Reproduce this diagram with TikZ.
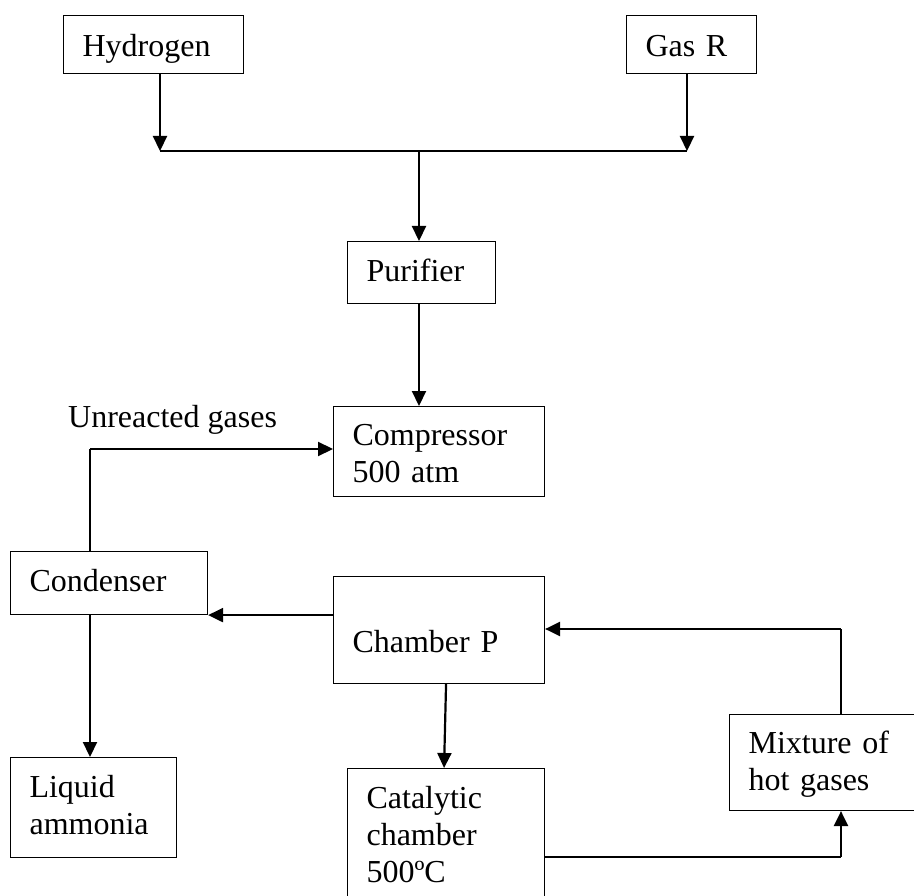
\documentclass[tikz,border=0pt]{standalone}
\usepackage{fontspec}
\setmainfont{Liberation Serif}
\usetikzlibrary{arrows.meta}

\begin{document}
\begin{tikzpicture}[x=1pt, y=-1pt,
	box/.style n args={3}{draw, line width=1.1pt, anchor=north west, inner xsep=19pt, inner ysep=0pt, align=left, text width=#1, text height=#2, text depth=#3, font=\fontsize{32}{37}\selectfont},
	pipe/.style={line width=1.2pt},
	flow/.style={line width=2.2pt, -{Triangle[length=15pt, width=14pt]}}]
	\useasboundingbox (0,0) rectangle (914,896);
	
	\node [box={142pt}{41pt}{17pt}] (hydrogen) at (63,15) {Hydrogen};
	\node [box={92pt}{41pt}{17pt}] (gasr) at (626,15) {Gas R};
	\node [box={110pt}{40pt}{22pt}] (purifier) at (347,241) {Purifier};
	\node [box={173pt}{39pt}{51pt}] (compressor) at (333,406) {Compressor\\500 atm};
	\node [box={159pt}{40pt}{23pt}] (condenser) at (10,551) {Condenser};
	\node [box={173pt}{76pt}{31pt}] (chamber) at (333,576) {Chamber P};
	\node [box={128pt}{40pt}{60pt}] (liquid) at (10,757) {Liquid\\ammonia};
	\node [box={159pt}{40pt}{132pt}] (catalytic) at (347,768) {Catalytic\\chamber\\500ºC};
	\node [box={152pt}{39pt}{57pt}] (mixture) at (729,714) {Mixture of\\hot gases};
	\node [anchor=base west, inner sep=0pt, font=\fontsize{32}{37}\selectfont] (unreacted) at (68,427) {Unreacted gases};
	
	\coordinate (hj) at (160,151);
	\coordinate (gj) at (687,151);
	\coordinate (pj) at (419,151);
	\coordinate (uc) at (90,449);
	\coordinate (mc) at (841,857);
	\coordinate (mt) at (841,629);
	
	\draw [flow] (hydrogen.south -| hj) -- (hj);
	\draw [flow] (gasr.south -| gj) -- (gj);
	\draw [pipe] (hj) -- (gj);
	\draw [flow] (pj) -- (pj |- purifier.north);
	\draw [flow] (purifier.south -| pj) -- (compressor.north -| pj);
	
	\draw [pipe] (condenser.north -| uc) -- (uc);
	\draw [flow] (uc) -- (uc -| compressor.west);
	\draw [flow] (chamber.west |- condenser.south east) -- (condenser.south east);
	\draw [flow] (condenser.south -| uc) -- (liquid.north -| uc);
	\draw [flow] ([xshift=7pt]chamber.south) -- ([xshift=-2pt]catalytic.north);
	
	\draw [pipe] (catalytic.east |- mc) -- (mc);
	\draw [flow] (mc) -- (mc |- mixture.south);
	\draw [pipe] (mixture.north -| mt) -- (mt);
	\draw [flow] (mt) -- (mt -| chamber.east);
\end{tikzpicture}
\end{document}
